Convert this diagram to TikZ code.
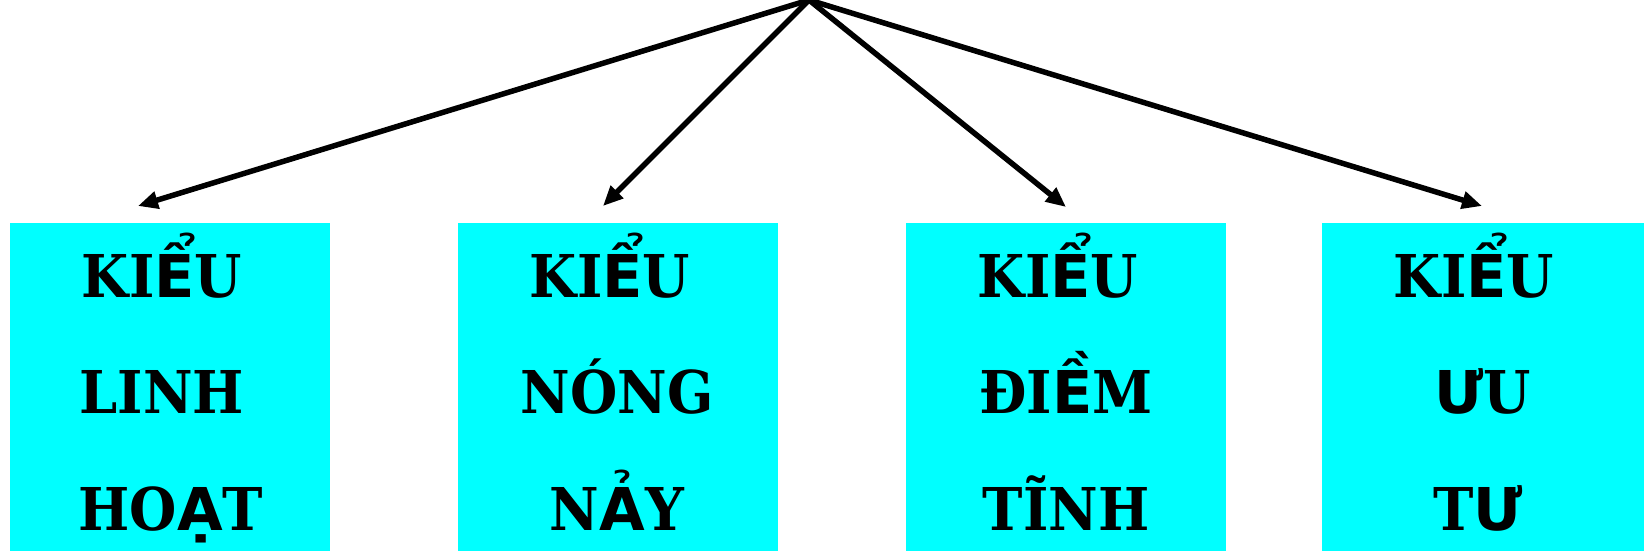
\documentclass[tikz,border=0pt]{standalone}
\usepackage{fontspec}
\setmainfont{DejaVu Serif}[FakeStretch=0.92]
\newfontfamily\fbsans{DejaVu Sans}
\usetikzlibrary{arrows.meta}
\definecolor{boxcyan}{RGB}{0,255,255}
\newcommand{\sv}[1]{{\fbsans\bfseries #1}}
\tikzset{
  kbox/.style={fill=boxcyan, draw=none, minimum width=320pt, minimum height=328pt, anchor=north west, inner sep=0pt},
  ktxt/.style={anchor=base, inner sep=0pt, font=\fontsize{59}{59}\selectfont\bfseries},
  karrow/.style={line width=5.5pt, -{Triangle[length=20pt,width=17pt]}}
}
\begin{document}
\begin{tikzpicture}[x=1pt,y=-1pt]
\useasboundingbox (0,0) rectangle (1644,551);
\coordinate (apex) at (809,0);
\node[kbox] (b1) at (10,223) {};
\node[kbox] (b2) at (458,223) {};
\node[kbox] (b3) at (906,223) {};
\node[kbox,minimum width=322pt] (b4) at (1322,223) {};
\coordinate (t1) at (138,206);
\coordinate (t2) at (603,206);
\coordinate (t3) at (1066,207);
\coordinate (t4) at (1482,206);
\foreach \t in {t1,t2,t3,t4} \draw[karrow] (apex) -- (\t);
% box 1
\node[ktxt] (l11) at (162,297) {KI\sv{Ể}U};
\node[ktxt] (l12) at (162,413) {LINH};
\node[ktxt] (l13) at (171,530) {HO\sv{Ạ}T};
% box 2
\node[ktxt] (l21) at (610,297) {KI\sv{Ể}U};
\node[ktxt] (l22) at (617,413) {NÓNG};
\node[ktxt] (l23) at (617,530) {N\sv{Ả}Y};
% box 3
\node[ktxt] (l31) at (1058,297) {KI\sv{Ể}U};
\node[ktxt] (l32) at (1066,413) {ĐI\sv{Ề}M};
\node[ktxt] (l33) at (1066,530) {TĨNH};
% box 4
\node[ktxt] (l41) at (1474,297) {KI\sv{Ể}U};
\node[ktxt] (l42) at (1483,413) {\sv{Ư}U};
\node[ktxt] (l43) at (1478,530) {T\sv{Ư}};
\end{tikzpicture}
\end{document}
